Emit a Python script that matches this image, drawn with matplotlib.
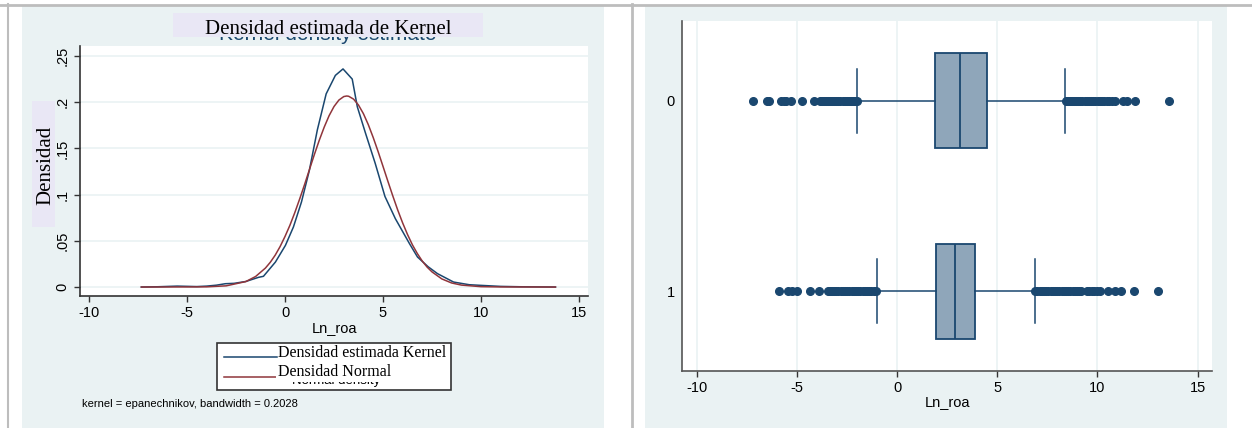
import matplotlib
matplotlib.use("Agg")
import matplotlib.pyplot as plt
from matplotlib.patches import Rectangle
from matplotlib.lines import Line2D

# --- densidad de Ln_roa: estimación kernel y normal ---
kern_x = [-7.33, -6.5, -5.5, -4.5, -4.0, -3.5, -3.04, -2.6, -2.0, -1.35, -1.1, -0.49,
          0.02, 0.43, 0.84, 1.24, 1.65, 2.1, 2.57, 2.96, 3.43, 3.69, 4.1, 4.6, 5.1,
          5.63, 6.35, 6.76, 7.3, 7.78, 8.6, 9.4, 10.0, 11.0, 12.0, 13.8]
kern_y = [0.0, 0.0003, 0.001, 0.0005, 0.001, 0.002, 0.0036, 0.004, 0.006, 0.0105, 0.0116, 0.027,
          0.045, 0.065, 0.092, 0.126, 0.17, 0.209, 0.229, 0.236, 0.225, 0.195, 0.167, 0.134, 0.098,
          0.074, 0.047, 0.0325, 0.022, 0.0145, 0.0054, 0.0025, 0.0018, 0.0007, 0.0003, 0.0]

norm_x = [-7.33, -5, -4, -3, -2, -1.5, -1, -0.75, -0.5, -0.25, 0, 0.25, 0.5, 0.75, 1,
          1.25, 1.5, 1.75, 2, 2.25, 2.5, 2.75, 3, 3.15, 3.25, 3.5, 3.75, 4, 4.25, 4.5,
          4.75, 5, 5.25, 5.5, 5.75, 6, 6.25, 6.5, 6.75, 7, 7.25, 7.5, 8, 8.5, 9, 10, 11, 13.8]
norm_y = [0, 0.0001, 0.0002, 0.0013, 0.0059, 0.0114, 0.0205, 0.0268, 0.0345, 0.0438,
          0.0547, 0.0668, 0.0805, 0.0954, 0.111, 0.1273, 0.1435, 0.1589, 0.173, 0.1854,
          0.1953, 0.2023, 0.2061, 0.2067, 0.2064, 0.2033, 0.1969, 0.1876, 0.1757, 0.1618,
          0.1466, 0.1306, 0.1144, 0.0986, 0.0834, 0.0695, 0.0569, 0.0457, 0.0363, 0.0282,
          0.0216, 0.0164, 0.0088, 0.0044, 0.0021, 0.0004, 0.0001, 0]

dens_ticks = [0, 0.05, 0.1, 0.15, 0.2, 0.25]
dens_labels = ["0", ".05", ".1", ".15", ".2", ".25"]
x_ticks = [-10, -5, 0, 5, 10, 15]

# --- diagrama de caja de Ln_roa por grupo (0 / 1) ---
grupos = ["0", "1"]
q1 = [1.89, 1.93]
mediana = [3.15, 2.88]
q3 = [4.46, 3.87]
bigote_inf = [-2.0, -1.03]
bigote_sup = [8.38, 6.86]
atipicos_0 = [-7.19, -6.52, -6.42, -5.82, -5.68, -5.56, -5.29, -4.77, -4.16,
              -3.86, -3.76, -3.65, -3.55, -3.46, -3.36, -3.25, -3.14, -3.05, -2.94,
              -2.84, -2.73, -2.62, -2.52, -2.41, -2.31, -2.2, -2.1, -2.02,
              8.42, 8.52, 8.61, 8.72, 8.83, 8.93, 9.04, 9.15, 9.25, 9.36, 9.47, 9.57,
              9.68, 9.79, 9.9, 10.01, 10.12, 10.23, 10.35, 10.47, 10.6, 10.74, 10.9,
              11.3, 11.48, 11.87, 13.57]
atipicos_1 = [-5.9, -5.44, -5.25, -5.0, -4.37, -3.9,
              -3.48, -3.38, -3.27, -3.16, -3.05, -2.94, -2.83, -2.72, -2.61, -2.5,
              -2.39, -2.28, -2.17, -2.06, -1.95, -1.84, -1.73, -1.62, -1.51, -1.4,
              -1.29, -1.18, -1.07,
              6.9, 7.0, 7.11, 7.22, 7.33, 7.44, 7.55, 7.66, 7.77, 7.88, 7.99, 8.1,
              8.21, 8.32, 8.43, 8.54, 8.65, 8.76, 8.87, 8.98, 9.09, 9.2,
              9.48, 9.6, 9.72, 9.85, 10.0, 10.12, 10.54, 10.88, 11.16, 11.8, 13.02]

NAVY = "#1a476f"
MAROON = "#90353b"
PANEL = "#eaf2f3"
LILA = "#e9e7f5"
SANS = "Liberation Sans"
SERIF = "Liberation Serif"

W, H = 1252, 428
fig = plt.figure(figsize=(W / 100, H / 100), dpi=100)
fig.patch.set_facecolor("white")


def rect_px(x0, y0, x1, y1, **kw):
    r = Rectangle((x0 / W, 1 - y1 / H), (x1 - x0) / W, (y1 - y0) / H,
                  transform=fig.transFigure, **kw)
    fig.add_artist(r)
    return r


def line_px(xs, ys, **kw):
    fig.add_artist(Line2D([x / W for x in xs], [1 - y / H for y in ys],
                          transform=fig.transFigure, **kw))


def text_px(x, y, s, **kw):
    fig.text(x / W, 1 - y / H, s, **kw)


def axes_px(x0, y0, x1, y1):
    return fig.add_axes([x0 / W, 1 - y1 / H, (x1 - x0) / W, (y1 - y0) / H])


# marco y fondos de los dos paneles
rect_px(22, 6, 604, 428, facecolor=PANEL, edgecolor="none", zorder=-5)
rect_px(645, 6, 1227, 428, facecolor=PANEL, edgecolor="none", zorder=-5)
line_px([0, W], [4.5, 4.5], color="#bdbdbd", lw=2, zorder=-4)
line_px([7.5, 7.5], [4, H], color="#bdbdbd", lw=1.5, zorder=-4)
line_px([631.5, 631.5], [4, H], color="#bdbdbd", lw=2, zorder=-4)

# ---------- panel izquierdo: densidad ----------
ax1 = axes_px(80, 46, 588, 296)
ax1.set_facecolor("white")
ax1.plot(kern_x, kern_y, color=NAVY, lw=1.1, zorder=3)
ax1.plot(norm_x, norm_y, color=MAROON, lw=1.1, zorder=3)
ax1.set_xlim(-10.46, 15.46)
ax1.set_ylim(-0.0097, 0.2608)
ax1.set_xticks(x_ticks)
ax1.set_xticklabels([str(t) for t in x_ticks], fontfamily=SANS, fontsize=10.5)
ax1.set_yticks(dens_ticks)
ax1.set_yticklabels(dens_labels, fontfamily=SANS, fontsize=10.5,
                    rotation=90, va="center")
for y in dens_ticks:
    ax1.axhline(y, color=PANEL, lw=1.2, zorder=1)
for s in ["top", "right"]:
    ax1.spines[s].set_visible(False)
for s in ["left", "bottom"]:
    ax1.spines[s].set_color("#333333")
    ax1.spines[s].set_linewidth(1.2)
ax1.tick_params(length=4, width=1, color="#333333", pad=3.5)

# título (el original en inglés queda detrás)
text_px(328, 40, "Kernel density estimate", fontfamily=SANS, fontsize=15,
        color=NAVY, ha="center", va="baseline", zorder=1)
rect_px(173, 13, 483, 37, facecolor=LILA, edgecolor="none", zorder=2)
text_px(328, 34, "Densidad estimada de Kernel", fontfamily=SERIF, fontsize=15,
        color="black", ha="center", va="baseline", zorder=3)

# etiqueta del eje y
rect_px(32, 101, 55, 227, facecolor=LILA, edgecolor="none", zorder=2)
text_px(46, 165, "Densidad", fontfamily=SERIF, fontsize=15, rotation=90,
        ha="center", va="center", zorder=3)

text_px(334, 328, "Ln_roa", fontfamily=SANS, fontsize=10.5, ha="center", va="center")

# leyenda
rect_px(217, 343, 451, 390, facecolor="white", edgecolor="#333333", lw=1.2, zorder=2)
line_px([224, 277], [357, 357], color=NAVY, lw=1.1, zorder=3)
line_px([224, 277], [377, 377], color=MAROON, lw=1.1, zorder=3)
text_px(336, 384, "Normal density", fontfamily=SANS, fontsize=9.5, ha="center",
        va="baseline", zorder=3)
text_px(278, 376, "Densidad Normal", fontfamily=SERIF, fontsize=11.5, ha="left",
        va="baseline", zorder=4,
        bbox=dict(facecolor="white", edgecolor="none", pad=1.5))
text_px(278, 357, "Densidad estimada Kernel", fontfamily=SERIF, fontsize=11.5,
        ha="left", va="baseline", zorder=4)

text_px(82, 404, "kernel = epanechnikov, bandwidth = 0.2028", fontfamily=SANS,
        fontsize=8, ha="left", va="center")

# ---------- panel derecho: cajas ----------
ax2 = axes_px(682, 21, 1212, 371)
ax2.set_facecolor("white")
fliers = [atipicos_0, atipicos_1]
stats = []
for i in range(len(grupos)):
    stats.append(dict(med=mediana[i], q1=q1[i], q3=q3[i],
                      whislo=bigote_inf[i], whishi=bigote_sup[i], fliers=fliers[i]))
ax2.bxp(stats, positions=[0, 1], widths=0.5, capwidths=0.333,
        orientation="horizontal", patch_artist=True,
        boxprops=dict(facecolor="#8fa6ba", edgecolor=NAVY, lw=1.3),
        medianprops=dict(color=NAVY, lw=1.3),
        whiskerprops=dict(color=NAVY, lw=1.1),
        capprops=dict(color=NAVY, lw=1.1),
        flierprops=dict(marker="o", markerfacecolor=NAVY, markeredgecolor=NAVY,
                        markersize=5.5))
ax2.set_xlim(-10.75, 15.72)
ax2.set_ylim(1.42, -0.42)
ax2.set_xticks(x_ticks)
ax2.set_xticklabels([str(t) for t in x_ticks], fontfamily=SANS, fontsize=10.5)
ax2.set_yticks([0, 1])
ax2.set_yticklabels(grupos, fontfamily=SANS, fontsize=10.5)
for x in x_ticks:
    ax2.axvline(x, color=PANEL, lw=1.2, zorder=0)
for s in ["top", "right"]:
    ax2.spines[s].set_visible(False)
for s in ["left", "bottom"]:
    ax2.spines[s].set_color("#555555")
    ax2.spines[s].set_linewidth(1.2)
ax2.tick_params(axis="x", length=4, width=1, color="#333333", pad=3.5)
ax2.tick_params(axis="y", length=0, pad=5)

text_px(947, 402, "Ln_roa", fontfamily=SANS, fontsize=10.5, ha="center", va="center")

fig.savefig("out.png", dpi=100)
